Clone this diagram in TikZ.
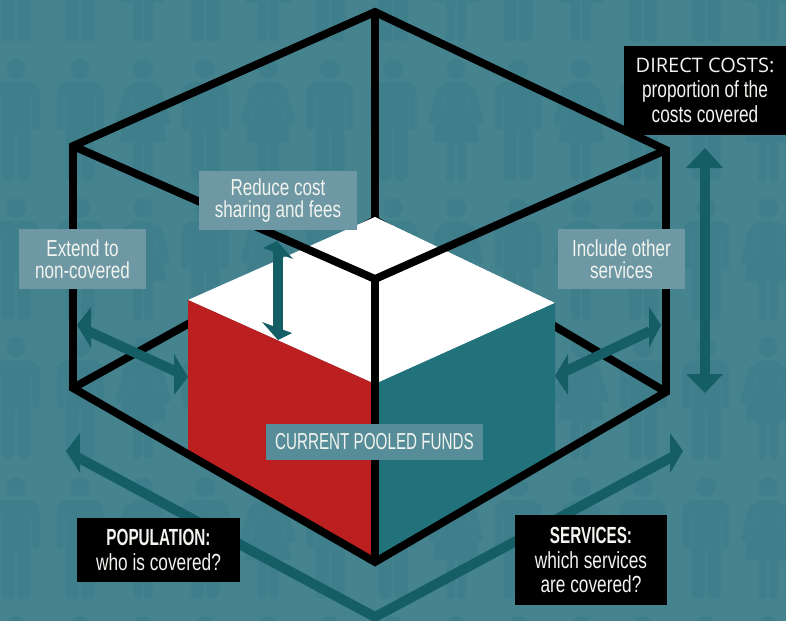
\documentclass[tikz,border=0pt]{standalone}
\usepackage{fontspec}
\setmainfont{Liberation Sans}
\newfontfamily\condfont[FakeStretch=0.74]{Liberation Sans}
\newfontfamily\tightfont[FakeStretch=0.66]{Liberation Sans}
\newfontfamily\condbold[FakeStretch=0.655]{Liberation Sans Bold}
\newfontfamily\widefont{Open Sans}
\definecolor{bgteal}{HTML}{45838F}
\definecolor{figteal}{HTML}{3E7F8B}
\definecolor{darkarrow}{HTML}{155E66}
\definecolor{faceteal}{HTML}{22727B}
\definecolor{facered}{HTML}{BB1F20}
\definecolor{lblbox}{HTML}{6E98A3}
\definecolor{poolbox}{HTML}{578D99}
\definecolor{txtcream}{HTML}{F2F4F0}
\tikzset{
  frameline/.style={black,line width=5.9pt,line join=miter},
  softlabel/.style={fill=lblbox,text=txtcream,font=\condfont\fontsize{17.3}{16.2}\selectfont,align=center,inner sep=0pt},
  blacklabel/.style={fill=black,text=txtcream,font=\condfont\fontsize{17.5}{18.5}\selectfont,align=center,inner sep=0pt},
  shaftline/.style={darkarrow,line width=7.4pt},
  headfill/.style={fill=darkarrow}
}
\newcommand{\manfig}[2]{%
  \begin{scope}[shift={(#1,#2)}]
    \fill[figteal] (0,0) circle (10);
    \fill[figteal] (0,62) -- (1,62)
      [rounded corners=4.6pt] -- (1,112) -- (14.5,112)
      [sharp corners] -- (14.5,26) -- (15.5,26)
      [rounded corners=2.8pt] -- (15.5,61) -- (23.5,61)
      [rounded corners=8pt] -- (23.5,13) -- (-23.5,13)
      [rounded corners=2.8pt] -- (-23.5,61) -- (-15.5,61)
      [sharp corners] -- (-15.5,26) -- (-14.5,26)
      [rounded corners=4.6pt] -- (-14.5,112) -- (-1,112)
      [sharp corners] -- (-1,62) -- cycle;
  \end{scope}}
\newcommand{\womanfig}[2]{%
  \begin{scope}[shift={(#1,#2)}]
    \fill[figteal] (0,0) circle (10);
    \fill[figteal,rounded corners=6pt] (-13,13) -- (13,13) -- (18,30) -- (22.5,73) [sharp corners] -- (22.5,73) -- (-22.5,73) -- (-18,30) [rounded corners=6pt] -- cycle;
    \draw[figteal,line width=5.4pt,line cap=round] (-15,21) -- (-24,52);
    \draw[figteal,line width=5.4pt,line cap=round] (15,21) -- (24,52);
    \draw[bgteal,line width=.6pt] (-10,26) -- (-19,56);
    \draw[bgteal,line width=.6pt] (10,26) -- (19,56);
    \fill[figteal,rounded corners=3.2pt] (1,70) -- (1,112) -- (10,112) -- (10,70) -- cycle;
    \fill[figteal,rounded corners=3.2pt] (-1,70) -- (-1,112) -- (-10,112) -- (-10,70) -- cycle;
  \end{scope}}
\begin{document}
\begin{tikzpicture}[x=0.75pt,y=-0.75pt]
\useasboundingbox (0,0) rectangle (786,621);
\fill[bgteal] (0,0) rectangle (786,621);
% people pattern
\foreach \ry in {-70.3,69,208,347.5,487,626}{
  \foreach \cx in {16,80,205,330,393,518,643,706}{\manfig{\cx}{\ry}}
  \foreach \cx in {143,268,456,581,768}{\womanfig{\cx}{\ry}}
}
% frame corners
\coordinate (topback) at (375,12);
\coordinate (topleft) at (73,146);
\coordinate (topright) at (666,150);
\coordinate (topfront) at (375,279);
\coordinate (botleft) at (73,388);
\coordinate (botright) at (666,392);
\coordinate (botfront) at (375,562);
\coordinate (botback) at (375,220);
% back edges
\draw[frameline] (topback) -- (botback);
\draw[frameline] (botleft) -- (botback) -- (botright);
% pooled-funds cube
\coordinate (cubeL) at (188,300);
\coordinate (cubeT) at (375,217);
\coordinate (cubeR) at (555,303);
\coordinate (cubeF) at (375,384);
\fill[white] (cubeL) -- (cubeT) -- (cubeR) -- (cubeF) -- cycle;
\fill[facered] (cubeL) -- (cubeF) -- (375,565) -- (188,454) -- cycle;
\fill[faceteal] (cubeF) -- (cubeR) -- (555,457) -- (375,565) -- cycle;
% front edges
\draw[frameline] (topback) -- (topleft) -- (botleft) -- (botfront) -- (botright) -- (topright) -- cycle;
\draw[frameline] (topleft) -- (topfront) -- (topright);
\draw[frameline] (topfront) -- (botfront);
% arrows
\coordinate (chevL) at (78,457.5);
\coordinate (chevM) at (375,617);
\coordinate (chevR) at (672,457);
\draw[shaftline,line join=miter] (chevL) -- (chevM) -- (chevR);
\fill[headfill] (66,451) -- (80,433) -- (80,473) -- cycle;
\fill[headfill] (683,451) -- (670,433) -- (670,473) -- cycle;
\coordinate (popA) at (88,331);
\coordinate (popB) at (177,372);
\draw[shaftline] (popA) -- (popB);
\fill[headfill] (77,325) -- (91,307) -- (91,348) -- cycle;
\fill[headfill] (188,377) -- (174,354) -- (174,395) -- cycle;
\coordinate (svcA) at (650,331);
\coordinate (svcB) at (566,371);
\draw[shaftline] (svcA) -- (svcB);
\fill[headfill] (661,325) -- (649,307) -- (649,348) -- cycle;
\fill[headfill] (555,376) -- (568,354) -- (568,395) -- cycle;
\coordinate (costA) at (705,166);
\coordinate (costB) at (705,376);
\draw[darkarrow,line width=7.4pt] (costA) -- (costB);
\fill[headfill] (705,148) -- (686,168) -- (723,168) -- cycle;
\fill[headfill] (705,393) -- (686,374) -- (723,374) -- cycle;
\coordinate (feeA) at (278,250);
\coordinate (feeB) at (278,330);
\draw[darkarrow,line width=8.2pt] (feeA) -- (feeB);
\fill[headfill] (277,241) -- (263,248) -- (293,259) -- cycle;
\fill[headfill] (278,340) -- (262,322) -- (292,333) -- cycle;
% labels
\node[softlabel,minimum width=118.5pt,minimum height=44.2pt] (reduce) at (278,200.5) {Reduce cost\\sharing and fees};
\node[softlabel,minimum width=95.2pt,minimum height=45pt] (extend) at (82.5,259) {Extend to\\non-covered};
\node[softlabel,minimum width=95.2pt,minimum height=45pt] (include) at (621.5,259) {Include other\\services};
\node[softlabel,fill=poolbox,minimum width=162.7pt,minimum height=27pt,font=\tightfont\fontsize{17.3}{18}\selectfont] (pool) at (374.5,442) {CURRENT POOLED FUNDS};
\node[blacklabel,minimum width=121.5pt,minimum height=66.8pt] (direct) at (705,90.5) {{\widefont\fontsize{15}{18.5}\selectfont DIRECT COSTS:}\\proportion of the\\costs covered};
\node[blacklabel,minimum width=122.2pt,minimum height=48pt] (population) at (158.5,550) {{\condbold POPULATION:}\\who is covered?};
\node[blacklabel,minimum width=114pt,minimum height=67.5pt] (services) at (591,560) {{\condbold SERVICES:}\\which services\\are covered?};
\end{tikzpicture}
\end{document}
